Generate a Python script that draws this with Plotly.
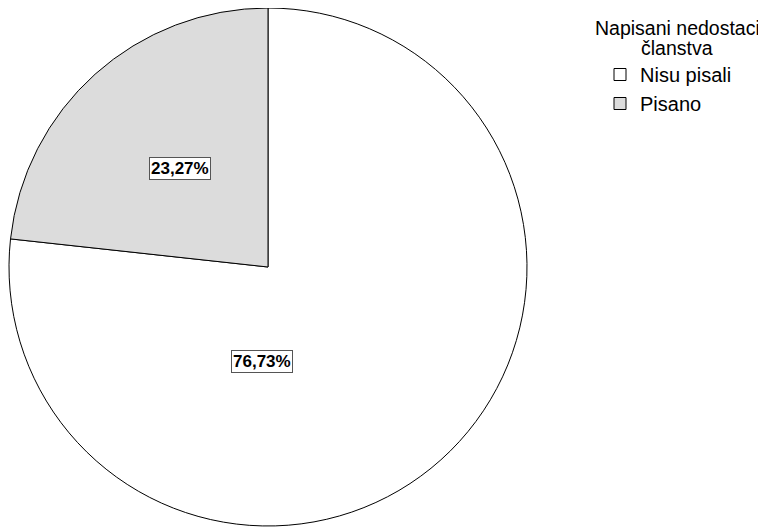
import math
import plotly.graph_objects as go

categories = ["Nisu pisali", "Pisano"]
values = [76.73, 23.27]
label_texts = ["76,73%", "23,27%"]
colors = ["#ffffff", "#dcdcdc"]
legend_title_lines = ["Napisani nedostaci", "članstva"]

W, H = 766, 527
OFF = 8  # page body margin
cx, cy, R = 268 - OFF, 267 - OFF, 259
dom_x = [(cx - R) / W, (cx + R) / W]
dom_y = [1 - (cy + R) / H, 1 - (cy - R) / H]

fig = go.Figure(go.Pie(
    labels=categories, values=values, sort=False, direction="clockwise",
    rotation=0, marker=dict(colors=colors, line=dict(color="#000000", width=1)),
    textinfo="none", hoverinfo="label+percent", domain=dict(x=dom_x, y=dom_y),
))

# label positions derived from slice mid-angles
total = sum(values)
start = 0.0
radial = [0.364, 0.51]
angle_shift = [45.5, 0]
for v, t, rf, sh in zip(values, label_texts, radial, angle_shift):
    mid = start + v / total * 360 / 2
    start += v / total * 360
    a = math.radians(mid + sh)
    px = cx + rf * R * math.sin(a)
    py = cy - rf * R * math.cos(a)
    fig.add_annotation(x=px / W, y=1 - py / H, xref="paper", yref="paper",
                       xanchor="center", yanchor="middle",
                       text="<b>%s</b>" % t, showarrow=False,
                       font=dict(family="Liberation Sans, Arial", size=17, color="#000"),
                       bgcolor="#ffffff", bordercolor="#555555", borderwidth=1, borderpad=1)

# legend title (centered, two lines)
for line, ly in zip(legend_title_lines, [28, 48]):
    fig.add_annotation(x=(677 - OFF) / W, y=1 - (ly - OFF) / H, xref="paper", yref="paper",
                       text=line, showarrow=False, xanchor="center", yanchor="middle",
                       font=dict(family="Liberation Sans, Arial", size=19.5, color="#000"))

fig.update_layout(
    width=W, height=H, margin=dict(l=0, r=0, t=0, b=0),
    paper_bgcolor="#ffffff", plot_bgcolor="#ffffff",
    font=dict(family="Liberation Sans, Arial", size=20, color="#000"),
    legend=dict(x=(600 - OFF) / W, y=1 - (55 - OFF) / H, xanchor="left", yanchor="top",
                font=dict(size=20), itemwidth=30, tracegroupgap=0,
                bgcolor="rgba(0,0,0,0)"),
)
fig.write_html("out.html")
